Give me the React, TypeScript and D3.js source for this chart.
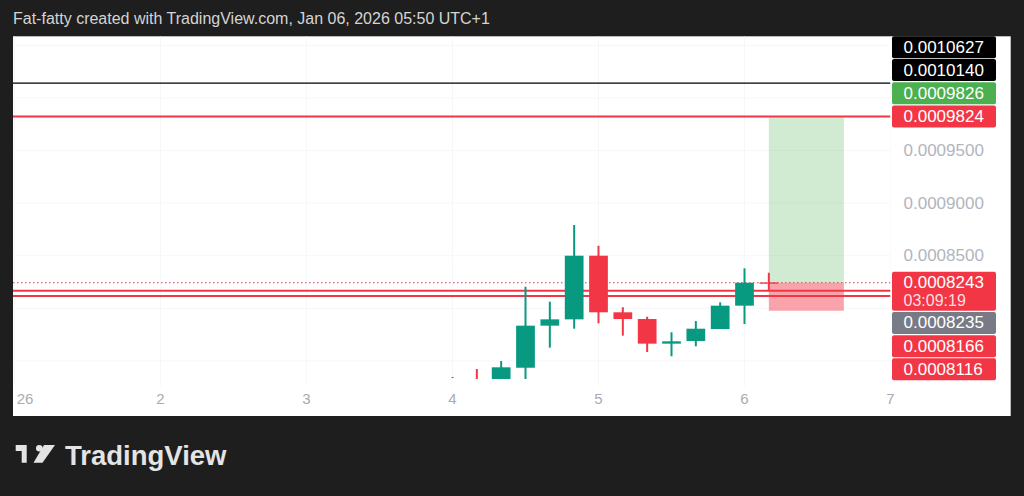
import React from 'react';
import * as d3 from 'd3';

// ---------- DATA ----------
const candleDates = [
  '2026-01-04T00:00', '2026-01-04T04:00', '2026-01-04T08:00', '2026-01-04T12:00',
  '2026-01-04T16:00', '2026-01-04T20:00', '2026-01-05T00:00', '2026-01-05T04:00',
  '2026-01-05T08:00', '2026-01-05T12:00', '2026-01-05T16:00', '2026-01-05T20:00',
  '2026-01-06T00:00', '2026-01-06T04:00',
];
const opens = [0.0007343, 0.0007345, 0.0007328, 0.0007435, 0.0007835, 0.0007895, 0.0008500, 0.0007962, 0.0007898, 0.0007664, 0.0007689, 0.0007803, 0.0008025, 0.0008246];
const highs = [0.0007347, 0.0007423, 0.0007499, 0.0008205, 0.0008063, 0.0008792, 0.0008595, 0.0008010, 0.0007920, 0.0007772, 0.0007879, 0.0008057, 0.0008380, 0.0008338];
const lows = [0.0007337, 0.0007328, 0.0007328, 0.0007328, 0.0007626, 0.0007806, 0.0007857, 0.0007740, 0.0007585, 0.0007544, 0.0007639, 0.0007803, 0.0007851, 0.0008167];
const closes = [0.0007343, 0.0007345, 0.0007439, 0.0007835, 0.0007895, 0.0008500, 0.0007962, 0.0007898, 0.0007664, 0.0007686, 0.0007806, 0.0008025, 0.0008243, 0.0008243];
const candleTrend = ['up', 'down', 'up', 'up', 'up', 'up', 'down', 'down', 'down', 'up', 'up', 'up', 'up', 'down'];

const lastPrice = 0.0008243;
const countdown = '03:09:19';

const levelValues = [0.0010140, 0.0009824, 0.0008166, 0.0008116];
const levelKinds = ['black', 'red', 'red', 'red'];

const positionStart = '2026-01-06T04:00';
const positionEnd = '2026-01-06T16:20';
const positionEntry = 0.0008243;
const positionTarget = 0.0009826;
const positionStop = 0.0007977;

const labelValues = [0.0010627, 0.0010140, 0.0009826, 0.0009824, 0.0008243, 0.0008235, 0.0008166, 0.0008116];
const labelKinds = ['black', 'black', 'green', 'alert', 'last', 'gray', 'red', 'red'];

const yTickValues = [0.00095, 0.0009, 0.00085];
const yGridValues = [0.00075, 0.0008, 0.00085, 0.0009, 0.00095, 0.001, 0.00105];
const xTickDays = [1, 2, 3, 4, 5, 6, 7];
const xTickLabels = ['26', '2', '3', '4', '5', '6', '7'];

const headerText = 'Fat-fatty created with TradingView.com, Jan 06, 2026 05:50 UTC+1';

// ---------- LAYOUT / STYLE ----------
const W = 1024, H = 496;
const BG = '#1e1e1e';
const panel = { x: 13, y: 36.3, w: 997.7, h: 379.7 };
const plotRight = 890.5;
const plotBottom = 386;
const axisX = 892;
const boxW = 104;
const boxH = 22;
const lastBoxH = 39;
const textX = 903.5;
const GREEN = '#089981';
const RED = '#f23645';
const FONT = '"Liberation Sans", Arial, Helvetica, sans-serif';

const kindColor: Record<string, string> = {
  black: '#000000', green: '#4caf50', alert: RED, last: RED, gray: '#787b86', red: RED,
};
const fixedKinds = new Set(['alert', 'last']);

function dayOf(s: string) {
  const day = +s.slice(8, 10);
  const hh = +s.slice(11, 13);
  const mm = +s.slice(14, 16);
  return day + (hh + mm / 60) / 24;
}

export default function App() {
  const x = d3.scaleLinear().domain([4, 5]).range([452.5, 598.5]);
  const y = d3.scaleLinear().domain([0.00085, 0.00095]).range([255.7, 150.5]);
  const slot = x(4 + 1 / 6) - x(4);
  const bodyW = slot * 0.77;

  const candles = candleDates.map((d, i) => ({
    t: dayOf(d), o: opens[i], h: highs[i], l: lows[i], c: closes[i], up: candleTrend[i] === 'up',
  }));

  // price label placement (stack away from fixed labels)
  type Lab = { v: number; kind: string; ideal: number; h: number; top: number };
  const labs: Lab[] = labelValues.map((v, i) => ({
    v, kind: labelKinds[i], ideal: y(v), h: labelKinds[i] === 'last' ? lastBoxH : boxH, top: 0,
  }));
  const fixed = labs.filter((l) => fixedKinds.has(l.kind));
  fixed.forEach((l) => { l.top = l.ideal - boxH / 2; });
  const GAP = 1.2;
  fixed.forEach((f) => {
    const mine = labs.filter((l) => !fixedKinds.has(l.kind)).filter((l) => {
      let best = fixed[0];
      fixed.forEach((g) => { if (Math.abs(g.ideal - l.ideal) < Math.abs(best.ideal - l.ideal)) best = g; });
      return best === f;
    });
    const above = mine.filter((l) => l.ideal < f.ideal).sort((a, b) => b.ideal - a.ideal);
    const below = mine.filter((l) => l.ideal >= f.ideal).sort((a, b) => a.ideal - b.ideal);
    let prevTop = f.top;
    above.forEach((l) => {
      const bottom = Math.min(l.ideal + boxH / 2, prevTop - GAP);
      l.top = bottom - l.h;
      prevTop = l.top;
    });
    let prevBottom = f.top + f.h;
    below.forEach((l) => {
      l.top = Math.max(l.ideal - boxH / 2, prevBottom + GAP);
      prevBottom = l.top + l.h;
    });
  });
  labs.forEach((l) => { if (l.top < panel.y) l.top = panel.y; });

  const px0 = x(dayOf(positionStart));
  const px1 = x(dayOf(positionEnd));

  return (
    <svg width={W} height={H} style={{ position: 'absolute', left: 0, top: 0, display: 'block' }}
      fontFamily={FONT}>
      <defs>
        <clipPath id="plotClip">
          <rect x={panel.x} y={panel.y} width={plotRight - panel.x} height={plotBottom - panel.y} />
        </clipPath>
      </defs>
      <rect x={0} y={0} width={W} height={H} fill={BG} />
      <text x={13} y={18} fill="#d4d4d4" fontSize={16} dominantBaseline="central">{headerText}</text>
      <rect x={panel.x} y={panel.y} width={panel.w} height={panel.h} fill="#ffffff" />

      <g clipPath="url(#plotClip)">
        {/* grid */}
        {yGridValues.map((v) => (
          <line key={'gy' + v} x1={panel.x} x2={plotRight} y1={y(v)} y2={y(v)} stroke="#f6f7f9" strokeWidth={1} />
        ))}
        {xTickDays.map((d) => (
          <line key={'gx' + d} x1={x(d)} x2={x(d)} y1={panel.y} y2={plotBottom} stroke="#f6f7f9" strokeWidth={1} />
        ))}

        {/* position box */}
        <rect x={px0} width={px1 - px0} y={y(positionTarget)} height={y(positionEntry) - y(positionTarget)}
          fill="rgba(76,175,80,0.26)" />
        <rect x={px0} width={px1 - px0} y={y(positionEntry)} height={y(positionStop) - y(positionEntry)}
          fill="rgba(242,54,69,0.45)" />

        {/* last price dotted line */}
        <line x1={panel.x} x2={plotRight} y1={y(lastPrice)} y2={y(lastPrice)} stroke={RED}
          strokeWidth={1} strokeDasharray="1.5,2.5" />

        {/* horizontal levels */}
        {levelValues.map((v, i) => (
          <line key={'lv' + i} x1={panel.x} x2={plotRight} y1={y(v)} y2={y(v)}
            stroke={levelKinds[i] === 'black' ? '#000' : RED}
            strokeWidth={levelKinds[i] === 'black' ? 1.3 : 2} />
        ))}

        {/* candles */}
        {candles.map((c, i) => {
          const col = c.up ? GREEN : RED;
          const cx = x(c.t);
          const top = y(Math.max(c.o, c.c));
          const bot = y(Math.min(c.o, c.c));
          return (
            <g key={'c' + i}>
              <line x1={cx} x2={cx} y1={y(c.h)} y2={y(c.l)} stroke={col} strokeWidth={2} />
              {c.o !== c.c && (
                <rect x={cx - bodyW / 2} y={top} width={bodyW} height={Math.max(1.3, bot - top)} fill={col} />
              )}
            </g>
          );
        })}
      </g>

      {/* x axis labels */}
      {xTickDays.map((d, i) => (
        <text key={'xt' + d} x={Math.max(x(d), 25)} y={398} textAnchor="middle" dominantBaseline="central"
          fontSize={15} fill="#a8abb3">{xTickLabels[i]}</text>
      ))}

      {/* y axis tick labels */}
      {yTickValues.map((v) => (
        <text key={'yt' + v} x={textX} y={y(v)} dominantBaseline="central"
          fontSize={17} fill="#b2b5be">{v.toFixed(7)}</text>
      ))}

      {/* price labels */}
      {labs.map((l, i) => (
        <g key={'pl' + i}>
          <rect x={axisX} y={l.top} width={boxW} height={l.h} rx={2} fill={kindColor[l.kind]} />
          <text x={textX} y={l.top + boxH / 2} dominantBaseline="central"
            fontSize={17} fill="#ffffff">{l.v.toFixed(7)}</text>
          {l.kind === 'last' && (
            <text x={textX} y={l.top + boxH / 2 + 18} dominantBaseline="central"
              fontSize={16} fill="rgba(255,255,255,0.85)">{countdown}</text>
          )}
        </g>
      ))}

      {/* TradingView logo */}
      <g fill="#e4e4e4">
        <path d="M15.7,445 H26.7 V462.7 H21.7 V451 H15.7 Z" />
        <circle cx={39.3} cy={448.3} r={3.3} />
        <path d="M44,445 H55 L42.5,462.7 H33.5 Z" />
        <text x={65} y={465} fontSize={27.5} fontWeight={700}>TradingView</text>
      </g>
    </svg>
  );
}
